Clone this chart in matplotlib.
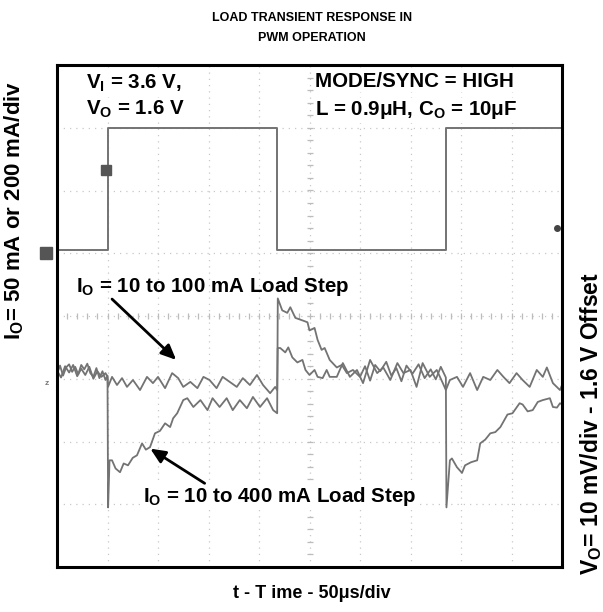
import numpy as np
import matplotlib
matplotlib.use("Agg")
import matplotlib.pyplot as plt

plt.rcParams['font.family'] = ['Liberation Sans', 'DejaVu Sans']
plt.rcParams['font.weight'] = 'bold'
plt.rcParams['mathtext.fontset'] = 'custom'
plt.rcParams['mathtext.rm'] = 'Liberation Sans:bold'
plt.rcParams['mathtext.default'] = 'rm'

# escalas del osciloscopio
US_PER_DIV = 50.0
MA_PER_DIV = 200.0
MV_PER_DIV = 10.0
IO_ZERO_DIV = 5.0      # referencia canal 1
VO_ZERO_DIV = 2.93     # referencia canal 2 (1.6 V)

# escalon de carga (mA) frente al tiempo (us)
io_t = [0, 50.5, 50.5, 218, 218, 385, 385, 500]
io_ma = [10, 10, 400, 400, 10, 10, 400, 400]

# salida con escalon de 10 a 100 mA (mV respecto a 1.6 V)
vo100_t = [0, 3, 6, 9, 12, 15, 18, 21, 24, 27, 30, 33, 36, 39, 42, 45, 48, 50,
           50.5, 54.5, 59.4, 64.4, 69.3, 75.2, 82.2, 89.1, 95, 100, 107, 114, 120,
           125, 132, 139, 145, 151, 158, 164, 171, 178, 184, 191, 198, 204, 211,
           216, 218,
           218.5, 221, 226, 229, 233, 238, 243, 246, 250, 255, 258, 263, 267, 270,
           277, 283, 290, 297, 303, 310, 317, 323, 330, 337, 343, 350, 356, 362,
           369, 376, 382, 385,
           389, 396, 402, 409, 416, 422, 429, 436, 442, 448, 455, 461, 468, 475,
           481, 485, 491, 498, 500]
vo100_mv = [1.5, 2.8, 1.2, 2.5, 3.0, 1.8, 2.6, 1.4, 2.9, 2.2, 3.1, 1.6, 1.0, 2.4,
            0.8, 1.9, 0.5, 1.2,
            -0.6, 1.0, -0.3, 0.8, -0.6, 0.5, -1.1, 1.0, 0.0, 1.0, -0.8, 1.6, 0.8,
            -0.6, 0.2, -0.8, 1.0, 0.5, -0.8, 1.0, 0.2, -0.6, 0.8, -0.3, 1.3, -0.3,
            -1.6, -0.6, -1.1,
            5.6, 5.6, 4.9, 5.7, 4.1, 3.3, 3.7, 2.1, 1.3, 2.1, 1.0, 0.8, 2.1, 1.0,
            1.0, 3.2, 1.0, 2.1, 0.0, 3.7, 1.6, 2.5, 0.5, 3.2, 1.6, 2.1, -0.6, 3.2,
            1.0, 2.1, 0.0, -1.1,
            0.5, 1.0, -0.6, 1.6, -1.1, 1.0, 0.5, 2.1, 1.0, 0.0, 1.6, 0.5, -0.6,
            2.1, 1.0, 2.5, 0.0, -1.1, -0.3]

# salida con escalon de 10 a 400 mA
vo400_t = [0, 4, 8, 12, 16, 20, 24, 28, 32, 36, 40, 44, 48, 50,
           50.6, 52, 54.5, 58, 62.4, 66, 70.3, 75, 79.2, 84.2, 88, 92.1, 97, 102,
           107, 112, 115, 119, 125, 129, 135, 142, 149, 154, 161, 168, 174, 181,
           188, 194, 201, 208, 214, 218,
           218.6, 223, 228, 231, 236, 243, 248, 250, 255, 258, 262, 265, 270, 277,
           282, 287, 293, 300, 305, 310, 315, 320, 326, 331, 336, 341, 346, 352,
           358, 364, 370, 375, 380, 385,
           385.6, 389, 391, 396, 401, 404, 410, 416, 419, 424, 429, 434, 439, 446,
           451, 458, 461, 466, 471, 476, 481, 488, 491, 495, 498, 500]
vo400_mv = [2.0, 0.9, 2.7, 1.7, 2.9, 1.1, 2.3, 1.3, 2.6, 0.7, 1.9, 1.0, 1.6, 1.0,
            -19.8, -12.3, -12.3, -13.6, -14.2, -12.8, -13.1, -11.9, -11.5, -9.6,
            -10.6, -10.2, -8.0, -7.6, -6.4, -7.0, -5.6, -4.8, -2.7, -2.4, -3.8,
            -2.7, -4.3, -2.4, -3.8, -2.4, -4.3, -2.7, -4.0, -2.2, -3.8, -2.4, -4.3,
            -4.8,
            13.5, 11.6, 11.2, 12.1, 10.4, 10.0, 9.7, 8.4, 8.8, 6.9, 5.3, 5.6, 3.7,
            2.5, 2.9, 1.6, 2.1, 1.0, 2.7, 0.4, 2.9, 1.9, 3.4, 1.2, 2.4, 0.3, 2.8,
            1.5, 3.0, 0.8, 2.2, 0.6, 2.6, 0.9,
            -19.8, -12.3, -12.0, -13.4, -14.3, -13.1, -12.6, -12.3, -9.6, -9.0,
            -8.0, -7.8, -7.0, -5.0, -4.8, -3.2, -3.4, -4.5, -4.3, -3.0, -2.7, -2.4,
            -3.8, -3.9, -3.2, -3.4]

trace_col = '#737373'

fig = plt.figure(figsize=(6.03, 6.12), dpi=100)
ax = fig.add_axes([57/603, 45/612, 505/603, 502/612])
ax.set_xlim(0, 10)
ax.set_ylim(0, 8)

# reticula punteada
for k in range(1, 10):
    ax.axvline(k, color='#c8c8c8', lw=0.9, ls=(0, (1, 4)), zorder=0)
for k in range(1, 8):
    ax.axhline(k, color='#c8c8c8', lw=0.9, ls=(0, (1, 4)), zorder=0)
minor = np.arange(0.2, 10, 0.2)
ax.plot(minor, np.full_like(minor, 4.0), ls='none', marker='|', ms=4,
        color='#bcbcbc', mew=0.9, zorder=0)
minor_y = np.arange(0.2, 8, 0.2)
ax.plot(np.full_like(minor_y, 5.0), minor_y, ls='none', marker='_', ms=4,
        color='#bcbcbc', mew=0.9, zorder=0)

# trazas
t_div = lambda t: np.array(t) / US_PER_DIV
ax.plot(t_div(io_t), IO_ZERO_DIV + np.array(io_ma) / MA_PER_DIV,
        color=trace_col, lw=1.4, zorder=2)
ax.plot(t_div(vo100_t), VO_ZERO_DIV + np.array(vo100_mv) / MV_PER_DIV,
        color=trace_col, lw=1.3, zorder=2)
ax.plot(t_div(vo400_t), VO_ZERO_DIV + np.array(vo400_mv) / MV_PER_DIV,
        color=trace_col, lw=1.3, zorder=2)

# marcadores del osciloscopio
ax.plot([-0.22], [IO_ZERO_DIV], marker='s', ms=8, color='#555555', clip_on=False)
ax.plot([0.97], [6.33], marker='s', ms=7, color='#555555', zorder=3)
ax.plot([9.9], [5.4], marker='o', ms=4, color='#444444', zorder=3)
ax.text(-0.2, VO_ZERO_DIV, 'z', fontsize=6, color='#777777', ha='center',
        va='center', clip_on=False)

for s in ax.spines.values():
    s.set_linewidth(2.2)
ax.set_xticks([])
ax.set_yticks([])

fs = 14.8
box = dict(facecolor='white', edgecolor='none', pad=1)
ax.text(0.57, 7.63, r'V$_{\rm I}$ = 3.6 V,', fontsize=fs, va='baseline', bbox=box)
ax.text(0.57, 7.20, r'V$_{\rm O}$ = 1.6 V', fontsize=fs, va='baseline', bbox=box)
ax.text(5.11, 7.65, 'MODE/SYNC = HIGH', fontsize=fs, va='baseline', bbox=box)
ax.text(5.11, 7.20, r'L = 0.9μH, C$_{\rm O}$ = 10μF', fontsize=fs,
        va='baseline', bbox=box)

arrow = dict(arrowstyle='-|>,head_length=0.9,head_width=0.4',
             color='black', lw=2.0)
ax.text(0.38, 4.38, r'I$_{\rm O}$ = 10 to 100 mA Load Step', fontsize=fs,
        va='baseline', zorder=4)
ax.annotate('', xy=(2.40, 3.27), xytext=(1.05, 4.30), arrowprops=arrow, zorder=4)
ax.text(1.70, 1.04, r'I$_{\rm O}$ = 10 to 400 mA Load Step', fontsize=fs,
        va='baseline', zorder=4, bbox=box)
ax.annotate('', xy=(1.80, 1.91), xytext=(2.97, 1.31), arrowprops=arrow, zorder=4)

# rotulos exteriores
fig.text(312/603, 1 - 18/612, 'LOAD TRANSIENT RESPONSE IN', fontsize=9,
         ha='center', va='center')
fig.text(312/603, 1 - 38/612, 'PWM OPERATION', fontsize=9,
         ha='center', va='center')
fig.text(312/603, 1 - 593/612, 't - T ime - 50μs/div', fontsize=13,
         ha='center', va='center')
fig.text(14/603, 1 - 210/612, r'I$_{\rm O}$= 50 mA or 200 mA/div', fontsize=16,
         rotation=90, ha='center', va='center')
fig.text(591/603, 1 - 424/612, r'V$_{\rm O}$= 10 mV/div - 1.6 V Offset',
         fontsize=16.5, rotation=90, ha='center', va='center')

fig.savefig('out.png', dpi=100)
